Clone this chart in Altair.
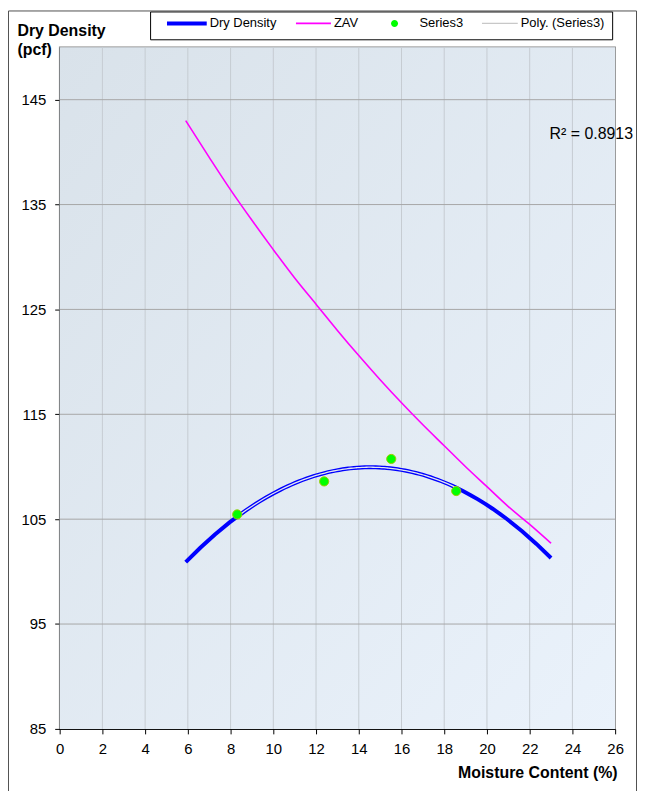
import altair as alt
import pandas as pd

# ---- data ----
moisture = [8.31, 12.38, 15.52, 18.56]
density = [105.45, 108.6, 110.74, 107.68]
curve_extent = [5.9, 23.0]

zav_moisture = [5.9, 7, 8, 9, 10, 11, 12, 13, 14, 15, 16, 17, 18, 19, 20, 21, 22, 23]
zav_density = [143.0, 139.5, 136.4, 133.5, 130.7, 128.0, 125.5, 123.0, 120.6,
               118.3, 116.1, 114.0, 112.0, 110.0, 108.1, 106.2, 104.5, 102.7]

series_names = ["Dry Density", "ZAV", "Series3", "Poly. (Series3)"]
series_colors = ["#0000ff", "#ff00ff", "#00ff00", "#c8c8c8"]
series_symbols = [
    "M-4,-0.25H1V0.25H-4Z",
    "M-3.4,-0.12H1V0.12H-3.4Z",
    "M-4,0M-1.31,0A0.44,0.44 0 1,0 -2.19,0A0.44,0.44 0 1,0 -1.31,0Z",
    "M-3.5,-0.07H1V0.07H-3.5Z",
]

x_ticks = list(range(0, 27, 2))
y_ticks = [85, 95, 105, 115, 125, 135, 145]
x_grid = list(range(2, 25, 2))
y_grid = [95, 105, 115, 125, 135, 145]
x_domain = [0, 26]
y_domain = [85, 150]
r2_text = "R\u00b2 = 0.8913"

FONT = "Liberation Sans"
PW, PH = 559, 686

pts = pd.DataFrame({"x": moisture, "y": density})
zav = pd.DataFrame({"x": zav_moisture, "y": zav_density})
legend_df = pd.DataFrame({"series": series_names, "x": [None] * 4, "y": [None] * 4})

xs = alt.Scale(domain=x_domain, nice=False, zero=False)
ys = alt.Scale(domain=y_domain, nice=False, zero=False)

x_axis = alt.Axis(values=x_ticks, grid=False, domainColor="black", tickColor="black",
                  tickSize=5, labelFontSize=15, labelFont=FONT, labelColor="black",
                  labelPadding=8, labelFlush=False,
                  title="Moisture Content (%)", titleFont=FONT, titleFontSize=16,
                  titleFontWeight="bold", titleColor="black", titleAlign="right",
                  titleBaseline="alphabetic", titleX=PW + 2, titleY=49)
y_axis = alt.Axis(values=y_ticks, grid=False, domainColor="black", tickColor="black",
                  tickSize=5, labelFontSize=15, labelFont=FONT, labelColor="black",
                  labelPadding=9, labelFlush=False,
                  title=["Dry Density", "(pcf)"], titleFont=FONT, titleFontSize=16,
                  titleFontWeight="bold", titleColor="black", titleAngle=0,
                  titleAlign="left", titleBaseline="alphabetic", titleX=-43, titleY=-12,
                  titleLineHeight=19)

bg = alt.Chart(pd.DataFrame({"a": [0]})).mark_rect(
    fill=alt.Gradient(gradient="linear",
                      stops=[alt.GradientStop(color="#d9e2ea", offset=0),
                             alt.GradientStop(color="#eaf2fb", offset=1)],
                      x1=0, y1=0, x2=1, y2=1)
).encode(x=alt.value(0), x2=alt.value(PW), y=alt.value(0), y2=alt.value(PH))

vgrid = alt.Chart(pd.DataFrame({"g": x_grid})).mark_rule(color="#c6ccd2", strokeWidth=1).encode(
    x=alt.X("g:Q", scale=xs, axis=x_axis))
hgrid = alt.Chart(pd.DataFrame({"g": y_grid})).mark_rule(color="#a6a6a6", strokeWidth=1).encode(
    y=alt.Y("g:Q", scale=ys, axis=y_axis))

zav_line = alt.Chart(zav).mark_line(color="#ff00ff", strokeWidth=1.6, interpolate="monotone").encode(
    x=alt.X("x:Q", scale=xs), y=alt.Y("y:Q", scale=ys))

dry_line = alt.Chart(pts).transform_regression(
    "x", "y", method="poly", order=2, extent=curve_extent
).mark_line(color="#0000ff", strokeWidth=4).encode(
    x=alt.X("x:Q", scale=xs), y=alt.Y("y:Q", scale=ys))

trend = alt.Chart(pts).transform_regression(
    "x", "y", method="poly", order=2
).mark_line(color="#e4e8f0", strokeWidth=1.3).encode(
    x=alt.X("x:Q", scale=xs), y=alt.Y("y:Q", scale=ys))

dots = alt.Chart(pts).mark_circle(size=85, color="#00ff00", stroke="#9acd00",
                                  strokeWidth=1, opacity=1).encode(
    x=alt.X("x:Q", scale=xs), y=alt.Y("y:Q", scale=ys))

r2 = alt.Chart(pd.DataFrame({"t": [r2_text]})).mark_text(
    font=FONT, fontSize=16, color="black", align="left", baseline="middle"
).encode(x=alt.value(493), y=alt.value(87), text="t:N")

frame = alt.Chart(pd.DataFrame({"a": [0]})).mark_rect(
    fillOpacity=0, stroke="#505050", strokeWidth=1
).encode(x=alt.value(-51.5), x2=alt.value(580.5), y=alt.value(-36.5), y2=alt.value(900))

legend_box = alt.Chart(pd.DataFrame({"a": [0]})).mark_rect(
    fill="white", stroke="black", strokeWidth=1
).encode(x=alt.value(91.5), x2=alt.value(556.5), y=alt.value(-35.5), y2=alt.value(-7.5))

leg = alt.Legend(title=None, orient="none", legendX=132, legendY=-32, direction="horizontal",
                 symbolSize=256, symbolStrokeWidth=0, symbolOpacity=1,
                 labelFont=FONT, labelFontSize=13, labelColor="black", labelOffset=3,
                 columnPadding=18, padding=0)

legend_layer = alt.Chart(legend_df).mark_point(filled=True, size=256, opacity=1).encode(
    x=alt.X("x:Q", scale=xs), y=alt.Y("y:Q", scale=ys),
    color=alt.Color("series:N", scale=alt.Scale(domain=series_names, range=series_colors), legend=leg),
    shape=alt.Shape("series:N", scale=alt.Scale(domain=series_names, range=series_symbols), legend=leg),
)

chart = alt.layer(bg, vgrid, hgrid, zav_line, dry_line, trend, dots, r2, legend_box,
                  legend_layer, frame).properties(
    width=PW, height=PH,
    autosize=alt.AutoSizeParams(type="none"),
    padding={"left": 52, "top": 37, "right": 22, "bottom": 60},
    background="white",
).configure_view(stroke="#808080", strokeWidth=1.5)

chart.save("out.html", embed_options={"renderer": "svg", "actions": False})
